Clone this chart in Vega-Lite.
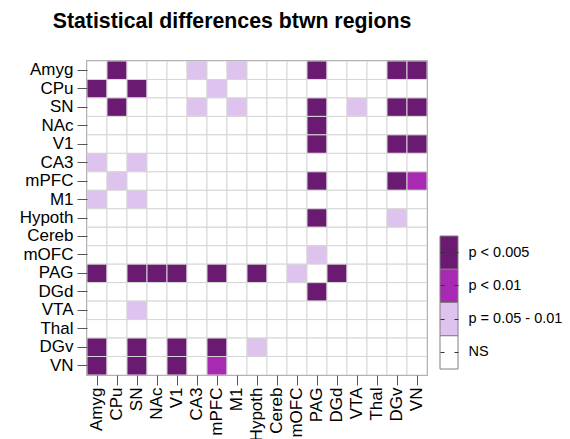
{
  "$schema": "https://vega.github.io/schema/vega-lite/v6.json",
  "width": 340,
  "height": 314,
  "autosize": {"type": "none"},
  "padding": {"left": 87, "top": 61, "right": 143, "bottom": 64},
  "background": "white",
  "title": {
    "text": "Statistical differences btwn regions",
    "font": "Liberation Sans",
    "fontSize": 21.3,
    "fontWeight": "bold",
    "color": "black",
    "anchor": "middle",
    "dx": -25,
    "offset": 28
  },
  "config": {
    "font": "Liberation Sans",
    "view": {"stroke": "#6e6e6e", "strokeWidth": 1.5}
  },
  "resolve": {
    "scale": {"x": "independent", "y": "independent"},
    "axis": {"x": "independent", "y": "independent"}
  },
  "layer": [
    {
      "data": {
        "values": [
          {"row": "Amyg", "col": "Amyg", "p": "NS"},
          {"row": "Amyg", "col": "CPu", "p": "p < 0.005"},
          {"row": "Amyg", "col": "SN", "p": "NS"},
          {"row": "Amyg", "col": "NAc", "p": "NS"},
          {"row": "Amyg", "col": "V1", "p": "NS"},
          {"row": "Amyg", "col": "CA3", "p": "p = 0.05 - 0.01"},
          {"row": "Amyg", "col": "mPFC", "p": "NS"},
          {"row": "Amyg", "col": "M1", "p": "p = 0.05 - 0.01"},
          {"row": "Amyg", "col": "Hypoth", "p": "NS"},
          {"row": "Amyg", "col": "Cereb", "p": "NS"},
          {"row": "Amyg", "col": "mOFC", "p": "NS"},
          {"row": "Amyg", "col": "PAG", "p": "p < 0.005"},
          {"row": "Amyg", "col": "DGd", "p": "NS"},
          {"row": "Amyg", "col": "VTA", "p": "NS"},
          {"row": "Amyg", "col": "Thal", "p": "NS"},
          {"row": "Amyg", "col": "DGv", "p": "p < 0.005"},
          {"row": "Amyg", "col": "VN", "p": "p < 0.005"},

          {"row": "CPu", "col": "Amyg", "p": "p < 0.005"},
          {"row": "CPu", "col": "CPu", "p": "NS"},
          {"row": "CPu", "col": "SN", "p": "p < 0.005"},
          {"row": "CPu", "col": "NAc", "p": "NS"},
          {"row": "CPu", "col": "V1", "p": "NS"},
          {"row": "CPu", "col": "CA3", "p": "NS"},
          {"row": "CPu", "col": "mPFC", "p": "p = 0.05 - 0.01"},
          {"row": "CPu", "col": "M1", "p": "NS"},
          {"row": "CPu", "col": "Hypoth", "p": "NS"},
          {"row": "CPu", "col": "Cereb", "p": "NS"},
          {"row": "CPu", "col": "mOFC", "p": "NS"},
          {"row": "CPu", "col": "PAG", "p": "NS"},
          {"row": "CPu", "col": "DGd", "p": "NS"},
          {"row": "CPu", "col": "VTA", "p": "NS"},
          {"row": "CPu", "col": "Thal", "p": "NS"},
          {"row": "CPu", "col": "DGv", "p": "NS"},
          {"row": "CPu", "col": "VN", "p": "NS"},

          {"row": "SN", "col": "Amyg", "p": "NS"},
          {"row": "SN", "col": "CPu", "p": "p < 0.005"},
          {"row": "SN", "col": "SN", "p": "NS"},
          {"row": "SN", "col": "NAc", "p": "NS"},
          {"row": "SN", "col": "V1", "p": "NS"},
          {"row": "SN", "col": "CA3", "p": "p = 0.05 - 0.01"},
          {"row": "SN", "col": "mPFC", "p": "NS"},
          {"row": "SN", "col": "M1", "p": "p = 0.05 - 0.01"},
          {"row": "SN", "col": "Hypoth", "p": "NS"},
          {"row": "SN", "col": "Cereb", "p": "NS"},
          {"row": "SN", "col": "mOFC", "p": "NS"},
          {"row": "SN", "col": "PAG", "p": "p < 0.005"},
          {"row": "SN", "col": "DGd", "p": "NS"},
          {"row": "SN", "col": "VTA", "p": "p = 0.05 - 0.01"},
          {"row": "SN", "col": "Thal", "p": "NS"},
          {"row": "SN", "col": "DGv", "p": "p < 0.005"},
          {"row": "SN", "col": "VN", "p": "p < 0.005"},

          {"row": "NAc", "col": "Amyg", "p": "NS"},
          {"row": "NAc", "col": "CPu", "p": "NS"},
          {"row": "NAc", "col": "SN", "p": "NS"},
          {"row": "NAc", "col": "NAc", "p": "NS"},
          {"row": "NAc", "col": "V1", "p": "NS"},
          {"row": "NAc", "col": "CA3", "p": "NS"},
          {"row": "NAc", "col": "mPFC", "p": "NS"},
          {"row": "NAc", "col": "M1", "p": "NS"},
          {"row": "NAc", "col": "Hypoth", "p": "NS"},
          {"row": "NAc", "col": "Cereb", "p": "NS"},
          {"row": "NAc", "col": "mOFC", "p": "NS"},
          {"row": "NAc", "col": "PAG", "p": "p < 0.005"},
          {"row": "NAc", "col": "DGd", "p": "NS"},
          {"row": "NAc", "col": "VTA", "p": "NS"},
          {"row": "NAc", "col": "Thal", "p": "NS"},
          {"row": "NAc", "col": "DGv", "p": "NS"},
          {"row": "NAc", "col": "VN", "p": "NS"},

          {"row": "V1", "col": "Amyg", "p": "NS"},
          {"row": "V1", "col": "CPu", "p": "NS"},
          {"row": "V1", "col": "SN", "p": "NS"},
          {"row": "V1", "col": "NAc", "p": "NS"},
          {"row": "V1", "col": "V1", "p": "NS"},
          {"row": "V1", "col": "CA3", "p": "NS"},
          {"row": "V1", "col": "mPFC", "p": "NS"},
          {"row": "V1", "col": "M1", "p": "NS"},
          {"row": "V1", "col": "Hypoth", "p": "NS"},
          {"row": "V1", "col": "Cereb", "p": "NS"},
          {"row": "V1", "col": "mOFC", "p": "NS"},
          {"row": "V1", "col": "PAG", "p": "p < 0.005"},
          {"row": "V1", "col": "DGd", "p": "NS"},
          {"row": "V1", "col": "VTA", "p": "NS"},
          {"row": "V1", "col": "Thal", "p": "NS"},
          {"row": "V1", "col": "DGv", "p": "p < 0.005"},
          {"row": "V1", "col": "VN", "p": "p < 0.005"},

          {"row": "CA3", "col": "Amyg", "p": "p = 0.05 - 0.01"},
          {"row": "CA3", "col": "CPu", "p": "NS"},
          {"row": "CA3", "col": "SN", "p": "p = 0.05 - 0.01"},
          {"row": "CA3", "col": "NAc", "p": "NS"},
          {"row": "CA3", "col": "V1", "p": "NS"},
          {"row": "CA3", "col": "CA3", "p": "NS"},
          {"row": "CA3", "col": "mPFC", "p": "NS"},
          {"row": "CA3", "col": "M1", "p": "NS"},
          {"row": "CA3", "col": "Hypoth", "p": "NS"},
          {"row": "CA3", "col": "Cereb", "p": "NS"},
          {"row": "CA3", "col": "mOFC", "p": "NS"},
          {"row": "CA3", "col": "PAG", "p": "NS"},
          {"row": "CA3", "col": "DGd", "p": "NS"},
          {"row": "CA3", "col": "VTA", "p": "NS"},
          {"row": "CA3", "col": "Thal", "p": "NS"},
          {"row": "CA3", "col": "DGv", "p": "NS"},
          {"row": "CA3", "col": "VN", "p": "NS"},

          {"row": "mPFC", "col": "Amyg", "p": "NS"},
          {"row": "mPFC", "col": "CPu", "p": "p = 0.05 - 0.01"},
          {"row": "mPFC", "col": "SN", "p": "NS"},
          {"row": "mPFC", "col": "NAc", "p": "NS"},
          {"row": "mPFC", "col": "V1", "p": "NS"},
          {"row": "mPFC", "col": "CA3", "p": "NS"},
          {"row": "mPFC", "col": "mPFC", "p": "NS"},
          {"row": "mPFC", "col": "M1", "p": "NS"},
          {"row": "mPFC", "col": "Hypoth", "p": "NS"},
          {"row": "mPFC", "col": "Cereb", "p": "NS"},
          {"row": "mPFC", "col": "mOFC", "p": "NS"},
          {"row": "mPFC", "col": "PAG", "p": "p < 0.005"},
          {"row": "mPFC", "col": "DGd", "p": "NS"},
          {"row": "mPFC", "col": "VTA", "p": "NS"},
          {"row": "mPFC", "col": "Thal", "p": "NS"},
          {"row": "mPFC", "col": "DGv", "p": "p < 0.005"},
          {"row": "mPFC", "col": "VN", "p": "p < 0.01"},

          {"row": "M1", "col": "Amyg", "p": "p = 0.05 - 0.01"},
          {"row": "M1", "col": "CPu", "p": "NS"},
          {"row": "M1", "col": "SN", "p": "p = 0.05 - 0.01"},
          {"row": "M1", "col": "NAc", "p": "NS"},
          {"row": "M1", "col": "V1", "p": "NS"},
          {"row": "M1", "col": "CA3", "p": "NS"},
          {"row": "M1", "col": "mPFC", "p": "NS"},
          {"row": "M1", "col": "M1", "p": "NS"},
          {"row": "M1", "col": "Hypoth", "p": "NS"},
          {"row": "M1", "col": "Cereb", "p": "NS"},
          {"row": "M1", "col": "mOFC", "p": "NS"},
          {"row": "M1", "col": "PAG", "p": "NS"},
          {"row": "M1", "col": "DGd", "p": "NS"},
          {"row": "M1", "col": "VTA", "p": "NS"},
          {"row": "M1", "col": "Thal", "p": "NS"},
          {"row": "M1", "col": "DGv", "p": "NS"},
          {"row": "M1", "col": "VN", "p": "NS"},

          {"row": "Hypoth", "col": "Amyg", "p": "NS"},
          {"row": "Hypoth", "col": "CPu", "p": "NS"},
          {"row": "Hypoth", "col": "SN", "p": "NS"},
          {"row": "Hypoth", "col": "NAc", "p": "NS"},
          {"row": "Hypoth", "col": "V1", "p": "NS"},
          {"row": "Hypoth", "col": "CA3", "p": "NS"},
          {"row": "Hypoth", "col": "mPFC", "p": "NS"},
          {"row": "Hypoth", "col": "M1", "p": "NS"},
          {"row": "Hypoth", "col": "Hypoth", "p": "NS"},
          {"row": "Hypoth", "col": "Cereb", "p": "NS"},
          {"row": "Hypoth", "col": "mOFC", "p": "NS"},
          {"row": "Hypoth", "col": "PAG", "p": "p < 0.005"},
          {"row": "Hypoth", "col": "DGd", "p": "NS"},
          {"row": "Hypoth", "col": "VTA", "p": "NS"},
          {"row": "Hypoth", "col": "Thal", "p": "NS"},
          {"row": "Hypoth", "col": "DGv", "p": "p = 0.05 - 0.01"},
          {"row": "Hypoth", "col": "VN", "p": "NS"},

          {"row": "Cereb", "col": "Amyg", "p": "NS"},
          {"row": "Cereb", "col": "CPu", "p": "NS"},
          {"row": "Cereb", "col": "SN", "p": "NS"},
          {"row": "Cereb", "col": "NAc", "p": "NS"},
          {"row": "Cereb", "col": "V1", "p": "NS"},
          {"row": "Cereb", "col": "CA3", "p": "NS"},
          {"row": "Cereb", "col": "mPFC", "p": "NS"},
          {"row": "Cereb", "col": "M1", "p": "NS"},
          {"row": "Cereb", "col": "Hypoth", "p": "NS"},
          {"row": "Cereb", "col": "Cereb", "p": "NS"},
          {"row": "Cereb", "col": "mOFC", "p": "NS"},
          {"row": "Cereb", "col": "PAG", "p": "NS"},
          {"row": "Cereb", "col": "DGd", "p": "NS"},
          {"row": "Cereb", "col": "VTA", "p": "NS"},
          {"row": "Cereb", "col": "Thal", "p": "NS"},
          {"row": "Cereb", "col": "DGv", "p": "NS"},
          {"row": "Cereb", "col": "VN", "p": "NS"},

          {"row": "mOFC", "col": "Amyg", "p": "NS"},
          {"row": "mOFC", "col": "CPu", "p": "NS"},
          {"row": "mOFC", "col": "SN", "p": "NS"},
          {"row": "mOFC", "col": "NAc", "p": "NS"},
          {"row": "mOFC", "col": "V1", "p": "NS"},
          {"row": "mOFC", "col": "CA3", "p": "NS"},
          {"row": "mOFC", "col": "mPFC", "p": "NS"},
          {"row": "mOFC", "col": "M1", "p": "NS"},
          {"row": "mOFC", "col": "Hypoth", "p": "NS"},
          {"row": "mOFC", "col": "Cereb", "p": "NS"},
          {"row": "mOFC", "col": "mOFC", "p": "NS"},
          {"row": "mOFC", "col": "PAG", "p": "p = 0.05 - 0.01"},
          {"row": "mOFC", "col": "DGd", "p": "NS"},
          {"row": "mOFC", "col": "VTA", "p": "NS"},
          {"row": "mOFC", "col": "Thal", "p": "NS"},
          {"row": "mOFC", "col": "DGv", "p": "NS"},
          {"row": "mOFC", "col": "VN", "p": "NS"},

          {"row": "PAG", "col": "Amyg", "p": "p < 0.005"},
          {"row": "PAG", "col": "CPu", "p": "NS"},
          {"row": "PAG", "col": "SN", "p": "p < 0.005"},
          {"row": "PAG", "col": "NAc", "p": "p < 0.005"},
          {"row": "PAG", "col": "V1", "p": "p < 0.005"},
          {"row": "PAG", "col": "CA3", "p": "NS"},
          {"row": "PAG", "col": "mPFC", "p": "p < 0.005"},
          {"row": "PAG", "col": "M1", "p": "NS"},
          {"row": "PAG", "col": "Hypoth", "p": "p < 0.005"},
          {"row": "PAG", "col": "Cereb", "p": "NS"},
          {"row": "PAG", "col": "mOFC", "p": "p = 0.05 - 0.01"},
          {"row": "PAG", "col": "PAG", "p": "NS"},
          {"row": "PAG", "col": "DGd", "p": "p < 0.005"},
          {"row": "PAG", "col": "VTA", "p": "NS"},
          {"row": "PAG", "col": "Thal", "p": "NS"},
          {"row": "PAG", "col": "DGv", "p": "NS"},
          {"row": "PAG", "col": "VN", "p": "NS"},

          {"row": "DGd", "col": "Amyg", "p": "NS"},
          {"row": "DGd", "col": "CPu", "p": "NS"},
          {"row": "DGd", "col": "SN", "p": "NS"},
          {"row": "DGd", "col": "NAc", "p": "NS"},
          {"row": "DGd", "col": "V1", "p": "NS"},
          {"row": "DGd", "col": "CA3", "p": "NS"},
          {"row": "DGd", "col": "mPFC", "p": "NS"},
          {"row": "DGd", "col": "M1", "p": "NS"},
          {"row": "DGd", "col": "Hypoth", "p": "NS"},
          {"row": "DGd", "col": "Cereb", "p": "NS"},
          {"row": "DGd", "col": "mOFC", "p": "NS"},
          {"row": "DGd", "col": "PAG", "p": "p < 0.005"},
          {"row": "DGd", "col": "DGd", "p": "NS"},
          {"row": "DGd", "col": "VTA", "p": "NS"},
          {"row": "DGd", "col": "Thal", "p": "NS"},
          {"row": "DGd", "col": "DGv", "p": "NS"},
          {"row": "DGd", "col": "VN", "p": "NS"},

          {"row": "VTA", "col": "Amyg", "p": "NS"},
          {"row": "VTA", "col": "CPu", "p": "NS"},
          {"row": "VTA", "col": "SN", "p": "p = 0.05 - 0.01"},
          {"row": "VTA", "col": "NAc", "p": "NS"},
          {"row": "VTA", "col": "V1", "p": "NS"},
          {"row": "VTA", "col": "CA3", "p": "NS"},
          {"row": "VTA", "col": "mPFC", "p": "NS"},
          {"row": "VTA", "col": "M1", "p": "NS"},
          {"row": "VTA", "col": "Hypoth", "p": "NS"},
          {"row": "VTA", "col": "Cereb", "p": "NS"},
          {"row": "VTA", "col": "mOFC", "p": "NS"},
          {"row": "VTA", "col": "PAG", "p": "NS"},
          {"row": "VTA", "col": "DGd", "p": "NS"},
          {"row": "VTA", "col": "VTA", "p": "NS"},
          {"row": "VTA", "col": "Thal", "p": "NS"},
          {"row": "VTA", "col": "DGv", "p": "NS"},
          {"row": "VTA", "col": "VN", "p": "NS"},

          {"row": "Thal", "col": "Amyg", "p": "NS"},
          {"row": "Thal", "col": "CPu", "p": "NS"},
          {"row": "Thal", "col": "SN", "p": "NS"},
          {"row": "Thal", "col": "NAc", "p": "NS"},
          {"row": "Thal", "col": "V1", "p": "NS"},
          {"row": "Thal", "col": "CA3", "p": "NS"},
          {"row": "Thal", "col": "mPFC", "p": "NS"},
          {"row": "Thal", "col": "M1", "p": "NS"},
          {"row": "Thal", "col": "Hypoth", "p": "NS"},
          {"row": "Thal", "col": "Cereb", "p": "NS"},
          {"row": "Thal", "col": "mOFC", "p": "NS"},
          {"row": "Thal", "col": "PAG", "p": "NS"},
          {"row": "Thal", "col": "DGd", "p": "NS"},
          {"row": "Thal", "col": "VTA", "p": "NS"},
          {"row": "Thal", "col": "Thal", "p": "NS"},
          {"row": "Thal", "col": "DGv", "p": "NS"},
          {"row": "Thal", "col": "VN", "p": "NS"},

          {"row": "DGv", "col": "Amyg", "p": "p < 0.005"},
          {"row": "DGv", "col": "CPu", "p": "NS"},
          {"row": "DGv", "col": "SN", "p": "p < 0.005"},
          {"row": "DGv", "col": "NAc", "p": "NS"},
          {"row": "DGv", "col": "V1", "p": "p < 0.005"},
          {"row": "DGv", "col": "CA3", "p": "NS"},
          {"row": "DGv", "col": "mPFC", "p": "p < 0.005"},
          {"row": "DGv", "col": "M1", "p": "NS"},
          {"row": "DGv", "col": "Hypoth", "p": "p = 0.05 - 0.01"},
          {"row": "DGv", "col": "Cereb", "p": "NS"},
          {"row": "DGv", "col": "mOFC", "p": "NS"},
          {"row": "DGv", "col": "PAG", "p": "NS"},
          {"row": "DGv", "col": "DGd", "p": "NS"},
          {"row": "DGv", "col": "VTA", "p": "NS"},
          {"row": "DGv", "col": "Thal", "p": "NS"},
          {"row": "DGv", "col": "DGv", "p": "NS"},
          {"row": "DGv", "col": "VN", "p": "NS"},

          {"row": "VN", "col": "Amyg", "p": "p < 0.005"},
          {"row": "VN", "col": "CPu", "p": "NS"},
          {"row": "VN", "col": "SN", "p": "p < 0.005"},
          {"row": "VN", "col": "NAc", "p": "NS"},
          {"row": "VN", "col": "V1", "p": "p < 0.005"},
          {"row": "VN", "col": "CA3", "p": "NS"},
          {"row": "VN", "col": "mPFC", "p": "p < 0.01"},
          {"row": "VN", "col": "M1", "p": "NS"},
          {"row": "VN", "col": "Hypoth", "p": "NS"},
          {"row": "VN", "col": "Cereb", "p": "NS"},
          {"row": "VN", "col": "mOFC", "p": "NS"},
          {"row": "VN", "col": "PAG", "p": "NS"},
          {"row": "VN", "col": "DGd", "p": "NS"},
          {"row": "VN", "col": "VTA", "p": "NS"},
          {"row": "VN", "col": "Thal", "p": "NS"},
          {"row": "VN", "col": "DGv", "p": "NS"},
          {"row": "VN", "col": "VN", "p": "NS"}
        ]
      },
      "mark": {"type": "rect", "stroke": "#d6d6d6", "strokeWidth": 1},
      "encoding": {
        "x": {
          "field": "col",
          "type": "nominal",
          "sort": ["Amyg", "CPu", "SN", "NAc", "V1", "CA3", "mPFC", "M1", "Hypoth", "Cereb", "mOFC", "PAG", "DGd", "VTA", "Thal", "DGv", "VN"],
          "scale": {"paddingInner": 0, "paddingOuter": 0},
          "axis": {
            "title": null,
            "domain": false,
            "labelAngle": -90,
            "labelAlign": "right",
            "labelBaseline": "middle",
            "labelFont": "Liberation Sans",
            "labelFontSize": 17,
            "labelColor": "black",
            "labelPadding": 2,
            "tickSize": 10,
            "tickColor": "#555555",
            "labelOverlap": false
          }
        },
        "y": {
          "field": "row",
          "type": "nominal",
          "sort": ["Amyg", "CPu", "SN", "NAc", "V1", "CA3", "mPFC", "M1", "Hypoth", "Cereb", "mOFC", "PAG", "DGd", "VTA", "Thal", "DGv", "VN"],
          "scale": {"paddingInner": 0, "paddingOuter": 0},
          "axis": {
            "title": null,
            "domain": false,
            "labelFont": "Liberation Sans",
            "labelFontSize": 17,
            "labelColor": "black",
            "labelPadding": 4,
            "tickSize": 10,
            "tickColor": "#555555",
            "labelOverlap": false
          }
        },
        "color": {
          "field": "p",
          "type": "ordinal",
          "scale": {
            "domain": ["p < 0.005", "p < 0.01", "p = 0.05 - 0.01", "NS"],
            "range": ["#6a1a70", "#a82ab2", "#dfc3ef", "#ffffff"]
          },
          "legend": null
        }
      }
    },
    {
      "data": {
        "values": [
          {"key": "scale", "p": "p < 0.005"},
          {"key": "scale", "p": "p < 0.01"},
          {"key": "scale", "p": "p = 0.05 - 0.01"},
          {"key": "scale", "p": "NS"}
        ]
      },
      "mark": {"type": "rect", "stroke": "#808080", "strokeWidth": 1},
      "encoding": {
        "x": {
          "field": "key",
          "type": "nominal",
          "scale": {"range": [353, 371], "paddingInner": 0, "paddingOuter": 0},
          "axis": null
        },
        "y": {
          "field": "p",
          "type": "nominal",
          "sort": ["p < 0.005", "p < 0.01", "p = 0.05 - 0.01", "NS"],
          "scale": {"range": [175, 308], "paddingInner": 0, "paddingOuter": 0},
          "axis": {
            "orient": "right",
            "offset": 31,
            "title": null,
            "domain": false,
            "ticks": true,
            "tickSize": -4,
            "tickColor": "#333333",
            "labelFont": "Liberation Sans",
            "labelFontSize": 14.5,
            "labelColor": "black",
            "labelPadding": 14,
            "labelLimit": 200,
            "labelOverlap": false
          }
        },
        "color": {
          "field": "p",
          "type": "ordinal",
          "scale": {
            "domain": ["p < 0.005", "p < 0.01", "p = 0.05 - 0.01", "NS"],
            "range": ["#6a1a70", "#a82ab2", "#dfc3ef", "#ffffff"]
          },
          "legend": null
        }
      }
    },
    {
      "data": {
        "values": [
          {"key": "scale", "p": "p < 0.005"},
          {"key": "scale", "p": "p < 0.01"},
          {"key": "scale", "p": "p = 0.05 - 0.01"},
          {"key": "scale", "p": "NS"}
        ]
      },
      "mark": {"type": "rect", "opacity": 0},
      "encoding": {
        "x": {
          "field": "key",
          "type": "nominal",
          "scale": {"range": [353, 371], "paddingInner": 0, "paddingOuter": 0},
          "axis": null
        },
        "y": {
          "field": "p",
          "type": "nominal",
          "sort": ["p < 0.005", "p < 0.01", "p = 0.05 - 0.01", "NS"],
          "scale": {"range": [175, 308], "paddingInner": 0, "paddingOuter": 0},
          "axis": {
            "orient": "left",
            "offset": -353,
            "title": null,
            "domain": false,
            "labels": false,
            "ticks": true,
            "tickSize": -4,
            "tickColor": "#333333"
          }
        }
      }
    }
  ]
}
